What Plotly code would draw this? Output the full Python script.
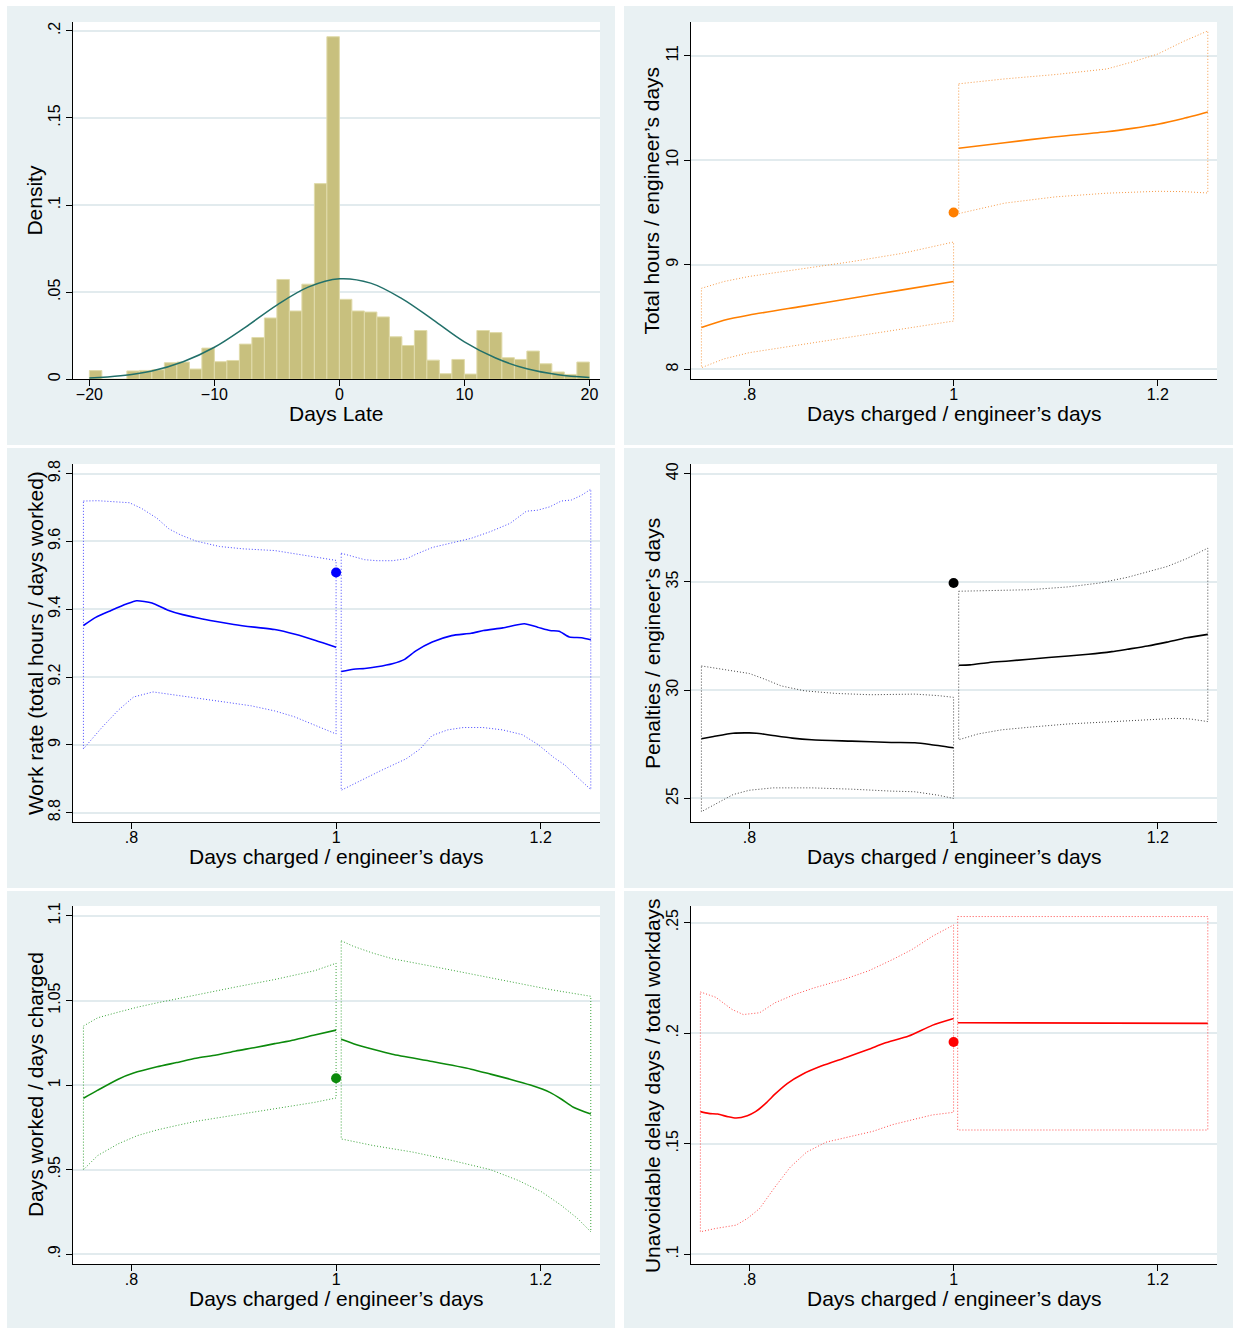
import plotly.graph_objects as go

FONT = "Liberation Sans, Arial, Helvetica, sans-serif"
W, H = 1233, 1330

# ---------------- Panel 1: histogram of days late ----------------
BIN_LEFT = list(range(-20, 20))
DENSITY = [0.0050, 0.0, 0.0, 0.0048, 0.0051, 0.0055, 0.0095, 0.0099, 0.0059, 0.0179,
           0.0101, 0.0108, 0.0202, 0.0240, 0.0352, 0.0573, 0.0392, 0.0546, 0.1123, 0.1966,
           0.0459, 0.0392, 0.0386, 0.0358, 0.0244, 0.0194, 0.0280, 0.0110, 0.0032, 0.0114,
           0.0030, 0.0280, 0.0268, 0.0124, 0.0114, 0.0162, 0.0089, 0.0042, 0.0028, 0.0099]
NORMAL_X = [-20, -17.5, -15, -12.5, -10, -7.5, -5, -2.5, 0, 2.5, 5, 7.5, 10, 12.5, 15, 17.5, 20]
NORMAL_Y = [0.0007, 0.0020, 0.0048, 0.0101, 0.0184, 0.0300, 0.0426, 0.0529, 0.0577,
            0.0552, 0.0463, 0.0341, 0.0215, 0.0122, 0.0060, 0.0026, 0.0010]
HIST_XTICKS = [-20, -10, 0, 10, 20]
HIST_XLABELS = ["\u221220", "\u221210", "0", "10", "20"]
HIST_YTICKS = [0, 0.05, 0.1, 0.15, 0.2]
HIST_YLABELS = ["0", ".05", ".1", ".15", ".2"]

# common x ticks for RD panels
RD_XTICKS = [0.8, 1.0, 1.2]
RD_XLABELS = [".8", "1", "1.2"]
DOT_X = 1.0

# ---------------- Panel 2: total hours / engineer's days ----------------
HRS_L_X = [0.753, 0.775, 0.80, 0.85, 0.90, 0.95, 1.0]
HRS_L_Y = [8.40, 8.47, 8.52, 8.60, 8.68, 8.76, 8.84]
HRS_LU = [8.775, 8.84, 8.889, 8.96, 9.03, 9.11, 9.218]
HRS_LL = [8.016, 8.10, 8.16, 8.235, 8.31, 8.385, 8.462]
HRS_R_X = [1.005, 1.05, 1.10, 1.15, 1.175, 1.20, 1.225, 1.249]
HRS_R_Y = [10.114, 10.168, 10.225, 10.272, 10.305, 10.345, 10.40, 10.462]
HRS_RU = [10.731, 10.778, 10.82, 10.873, 10.94, 11.016, 11.136, 11.237]
HRS_RL = [9.49, 9.59, 9.65, 9.685, 9.697, 9.703, 9.70, 9.687]
HRS_DOT = 9.50
HRS_YTICKS = [8, 9, 10, 11]
HRS_YLABELS = ["8", "9", "10", "11"]

# ---------------- Panel 3: work rate ----------------
WR_L_X = [0.753, 0.765, 0.78, 0.795, 0.805, 0.82, 0.835, 0.85, 0.865, 0.88, 0.90, 0.92, 0.94, 0.96, 0.98, 1.0]
WR_L_Y = [9.352, 9.376, 9.396, 9.415, 9.425, 9.418, 9.398, 9.384, 9.374, 9.365, 9.355, 9.347, 9.340, 9.326, 9.308, 9.288]
WR_LU_X = [0.753, 0.767, 0.798, 0.81, 0.825, 0.8365, 0.848, 0.863, 0.886, 0.909, 0.94, 0.963, 0.986, 1.0]
WR_LU = [9.719, 9.72, 9.714, 9.697, 9.668, 9.637, 9.619, 9.601, 9.585, 9.578, 9.573, 9.562, 9.551, 9.544]
WR_LL_X = [0.753, 0.771, 0.787, 0.802, 0.821, 0.84, 0.863, 0.894, 0.917, 0.94, 0.959, 0.9785, 1.0]
WR_LL = [8.988, 9.051, 9.102, 9.141, 9.156, 9.149, 9.138, 9.125, 9.115, 9.100, 9.083, 9.059, 9.032]
WR_R_X = [1.005, 1.017, 1.028, 1.040, 1.055, 1.067, 1.078, 1.094, 1.113, 1.132, 1.144, 1.163, 1.184, 1.197, 1.209, 1.218, 1.228, 1.240, 1.249]
WR_R_Y = [9.216, 9.223, 9.225, 9.230, 9.239, 9.252, 9.277, 9.303, 9.322, 9.329, 9.337, 9.345, 9.357, 9.347, 9.337, 9.335, 9.318, 9.316, 9.310]
WR_RU_X = [1.005, 1.017, 1.028, 1.040, 1.055, 1.069, 1.078, 1.094, 1.113, 1.132, 1.151, 1.170, 1.186, 1.197, 1.209, 1.220, 1.230, 1.240, 1.249]
WR_RU = [9.565, 9.555, 9.546, 9.543, 9.543, 9.549, 9.562, 9.582, 9.596, 9.609, 9.629, 9.653, 9.689, 9.692, 9.702, 9.719, 9.722, 9.736, 9.754]
WR_RL_X = [1.005, 1.0246, 1.0438, 1.0687, 1.0822, 1.0937, 1.109, 1.1244, 1.1436, 1.1628, 1.182, 1.1973, 1.2127, 1.2242, 1.2357, 1.249]
WR_RL = [8.866, 8.895, 8.924, 8.959, 8.988, 9.027, 9.044, 9.051, 9.051, 9.044, 9.030, 9.001, 8.963, 8.939, 8.905, 8.868]
WR_DOT = 9.508
WR_YTICKS = [8.8, 9.0, 9.2, 9.4, 9.6, 9.8]
WR_YLABELS = ["8.8", "9", "9.2", "9.4", "9.6", "9.8"]

# ---------------- Panel 4: penalties ----------------
PEN_L_X = [0.753, 0.765, 0.784, 0.80, 0.807, 0.823, 0.842, 0.861, 0.90, 0.939, 0.962, 0.977, 1.0]
PEN_L_Y = [27.755, 27.862, 28.015, 28.03, 28.015, 27.908, 27.786, 27.709, 27.648, 27.587, 27.571, 27.495, 27.342]
PEN_LU_X = [0.753, 0.784, 0.80, 0.815, 0.831, 0.854, 0.885, 0.919, 0.939, 0.962, 0.985, 1.0]
PEN_LU = [31.12, 30.89, 30.77, 30.51, 30.20, 29.97, 29.85, 29.79, 29.79, 29.82, 29.75, 29.67]
PEN_LL_X = [0.753, 0.769, 0.784, 0.80, 0.823, 0.861, 0.90, 0.939, 0.962, 0.985, 1.0]
PEN_LL = [24.39, 24.80, 25.18, 25.38, 25.49, 25.49, 25.43, 25.34, 25.31, 25.15, 25.0]
PEN_R_X = [1.005, 1.016, 1.035, 1.054, 1.093, 1.132, 1.155, 1.170, 1.190, 1.209, 1.228, 1.249]
PEN_R_Y = [31.153, 31.17, 31.28, 31.35, 31.51, 31.66, 31.78, 31.89, 32.04, 32.22, 32.42, 32.58]
PEN_RU_X = [1.005, 1.035, 1.074, 1.112, 1.143, 1.170, 1.190, 1.209, 1.228, 1.249]
PEN_RU = [34.57, 34.60, 34.64, 34.77, 34.95, 35.21, 35.45, 35.71, 36.07, 36.56]
PEN_RL_X = [1.005, 1.024, 1.047, 1.074, 1.112, 1.151, 1.190, 1.217, 1.232, 1.249]
PEN_RL = [27.71, 27.98, 28.17, 28.29, 28.44, 28.55, 28.63, 28.70, 28.67, 28.55]
PEN_DOT = 34.95
PEN_YTICKS = [25, 30, 35, 40]
PEN_YLABELS = ["25", "30", "35", "40"]

# ---------------- Panel 5: days worked / days charged ----------------
DW_L_X = [0.753, 0.767, 0.787, 0.802, 0.825, 0.844, 0.863, 0.883, 0.902, 0.921, 0.940, 0.959, 0.979, 1.0]
DW_L_Y = [0.9922, 0.997, 1.0035, 1.0071, 1.0108, 1.0133, 1.0159, 1.0178, 1.0202, 1.0222, 1.0245, 1.0267, 1.0296, 1.0325]
DW_LU_X = [0.753, 0.767, 0.787, 0.806, 0.825, 0.844, 0.863, 0.902, 0.940, 0.979, 1.0]
DW_LU = [1.0349, 1.0398, 1.0431, 1.0461, 1.0486, 1.051, 1.0535, 1.058, 1.0624, 1.0676, 1.072]
DW_LL_X = [0.753, 0.767, 0.787, 0.806, 0.825, 0.844, 0.863, 0.902, 0.940, 0.979, 1.0]
DW_LL = [0.950, 0.9584, 0.9653, 0.9702, 0.9735, 0.9761, 0.9786, 0.9825, 0.9859, 0.9898, 0.9924]
DW_R_X = [1.005, 1.017, 1.036, 1.055, 1.094, 1.132, 1.151, 1.170, 1.190, 1.209, 1.220, 1.232, 1.249]
DW_R_Y = [1.0271, 1.0245, 1.0212, 1.0182, 1.0139, 1.0094, 1.0065, 1.0035, 1.0, 0.9957, 0.9918, 0.9869, 0.9829]
DW_RU_X = [1.005, 1.017, 1.036, 1.055, 1.094, 1.132, 1.170, 1.209, 1.249]
DW_RU = [1.0853, 1.082, 1.078, 1.0747, 1.0702, 1.0657, 1.061, 1.0565, 1.0525]
DW_RL_X = [1.005, 1.036, 1.075, 1.113, 1.151, 1.178, 1.201, 1.220, 1.236, 1.249]
DW_RL = [0.9682, 0.9643, 0.9604, 0.9555, 0.950, 0.9437, 0.9369, 0.929, 0.9212, 0.9133]
DW_DOT = 1.0041
DW_YTICKS = [0.9, 0.95, 1.0, 1.05, 1.1]
DW_YLABELS = [".9", ".95", "1", "1.05", "1.1"]

# ---------------- Panel 6: unavoidable delay days ----------------
UD_L_X = [0.752, 0.760, 0.769, 0.779, 0.787, 0.798, 0.806, 0.817, 0.825, 0.837, 0.852, 0.871, 0.894, 0.917, 0.932, 0.956, 0.979, 1.0]
UD_L_Y = [0.1645, 0.1637, 0.1634, 0.1622, 0.1616, 0.1627, 0.1645, 0.1687, 0.1724, 0.1772, 0.1814, 0.1852, 0.1889, 0.1927, 0.1954, 0.1987, 0.2035, 0.2066]
UD_LU_X = [0.752, 0.767, 0.783, 0.794, 0.810, 0.825, 0.844, 0.863, 0.894, 0.917, 0.940, 0.959, 0.979, 1.0]
UD_LU = [0.2186, 0.2162, 0.2107, 0.2084, 0.2092, 0.2137, 0.2174, 0.2204, 0.2245, 0.2282, 0.2332, 0.2377, 0.2437, 0.2489]
UD_LL_X = [0.752, 0.767, 0.787, 0.798, 0.810, 0.825, 0.840, 0.856, 0.875, 0.902, 0.921, 0.940, 0.963, 0.979, 1.0]
UD_LL = [0.1102, 0.1117, 0.1132, 0.1162, 0.1207, 0.1304, 0.1394, 0.1462, 0.1507, 0.1537, 0.1556, 0.1586, 0.1612, 0.1630, 0.1642]
UD_R_X = [1.004, 1.249]
UD_R_Y = [0.2047, 0.2044]
UD_RU_X = [1.004, 1.249]
UD_RU = [0.2527, 0.2527]
UD_RL_X = [1.004, 1.249]
UD_RL = [0.1562, 0.1562]
UD_DOT = 0.196
UD_YTICKS = [0.1, 0.15, 0.2, 0.25]
UD_YLABELS = [".1", ".15", ".2", ".25"]

XTITLE = "Days charged / engineer\u2019s days"
YTITLES = ["Density", "Total hours / engineer\u2019s days",
           "Work rate (total hours / days worked)", "Penalties / engineer\u2019s days",
           "Days worked / days charged", "Unavoidable delay days / total workdays"]
XTITLES = ["Days Late", XTITLE, XTITLE, XTITLE, XTITLE, XTITLE]

# ---------------- layout geometry (pixels) ----------------
BG = "#e9f1f3"
PANEL_BOX = [(7, 2, 615, 443), (624, 2, 1233, 443),
             (7, 446, 615, 888), (624, 446, 1233, 888),
             (7, 891, 615, 1330), (624, 891, 1233, 1330)]
PLOT_BOX = [(73, 18, 600, 377), (691, 18, 1217, 377),
            (73, 462, 600, 822), (691, 462, 1217, 822),
            (73, 906, 600, 1266), (691, 906, 1217, 1266)]
XRANGES = [[-21.31, 20.85]] + [[0.7428, 1.258]] * 5
YRANGES = [[0, 0.2051], [7.905, 11.323], [8.7715, 9.8285], [23.9, 40.45],
           [0.8941, 1.1059], [0.0955, 0.2575]]


def fx(p):
    return p / W


def fy(p):
    return 1 - p / H


fig = go.Figure()

# histogram
fig.add_trace(go.Bar(x=BIN_LEFT, y=DENSITY, offset=0, width=1,
                     marker=dict(color="#c8c07e", line=dict(color="#e0dbab", width=1)),
                     xaxis="x", yaxis="y", hoverinfo="skip"))
fig.add_trace(go.Scatter(x=NORMAL_X, y=NORMAL_Y, mode="lines",
                         line=dict(color="#22706a", width=1.5, shape="spline"),
                         xaxis="x", yaxis="y", hoverinfo="skip"))


def add_rd(n, color, ci_color, lx, ly, lux, lu, llx, ll, rx, ry, rux, ru, rlx, rl, dot):
    xa = f"x{n}"
    ya = f"y{n}"
    for ux, u, lxx, l in ((lux, lu, llx, ll), (rux, ru, rlx, rl)):
        fig.add_trace(go.Scatter(
            x=list(ux) + list(lxx)[::-1] + [ux[0]],
            y=list(u) + list(l)[::-1] + [u[0]],
            mode="lines", line=dict(color=ci_color, width=1, dash="1px,2px"),
            xaxis=xa, yaxis=ya, hoverinfo="skip"))
    for x, y in ((lx, ly), (rx, ry)):
        fig.add_trace(go.Scatter(x=x, y=y, mode="lines",
                                 line=dict(color=color, width=1.6, shape="spline", smoothing=0.6),
                                 xaxis=xa, yaxis=ya, hoverinfo="skip"))
    fig.add_trace(go.Scatter(x=[DOT_X], y=[dot], mode="markers",
                             marker=dict(color=color, size=10),
                             xaxis=xa, yaxis=ya, hoverinfo="skip"))


add_rd(2, "#ff7f00", "#f59a48", HRS_L_X, HRS_L_Y, HRS_L_X, HRS_LU, HRS_L_X, HRS_LL,
       HRS_R_X, HRS_R_Y, HRS_R_X, HRS_RU, HRS_R_X, HRS_RL, HRS_DOT)
add_rd(3, "#0000ff", "#4646ff", WR_L_X, WR_L_Y, WR_LU_X, WR_LU, WR_LL_X, WR_LL,
       WR_R_X, WR_R_Y, WR_RU_X, WR_RU, WR_RL_X, WR_RL, WR_DOT)
add_rd(4, "#000000", "#444444", PEN_L_X, PEN_L_Y, PEN_LU_X, PEN_LU, PEN_LL_X, PEN_LL,
       PEN_R_X, PEN_R_Y, PEN_RU_X, PEN_RU, PEN_RL_X, PEN_RL, PEN_DOT)
add_rd(5, "#0c8a0c", "#3aa33a", DW_L_X, DW_L_Y, DW_LU_X, DW_LU, DW_LL_X, DW_LL,
       DW_R_X, DW_R_Y, DW_RU_X, DW_RU, DW_RL_X, DW_RL, DW_DOT)
add_rd(6, "#ff0000", "#ff4a4a", UD_L_X, UD_L_Y, UD_LU_X, UD_LU, UD_LL_X, UD_LL,
       UD_R_X, UD_R_Y, UD_RU_X, UD_RU, UD_RL_X, UD_RL, UD_DOT)

layout = dict(width=W, height=H, margin=dict(l=0, r=0, t=0, b=0, pad=0),
              paper_bgcolor="white", plot_bgcolor="rgba(0,0,0,0)", showlegend=False,
              font=dict(family=FONT, color="#000"))

YT = [(HIST_YTICKS, HIST_YLABELS), (HRS_YTICKS, HRS_YLABELS), (WR_YTICKS, WR_YLABELS),
      (PEN_YTICKS, PEN_YLABELS), (DW_YTICKS, DW_YLABELS), (UD_YTICKS, UD_YLABELS)]

shapes = []
annotations = []
for i in range(6):
    n = i + 1
    x0, y0, x1, y1 = PLOT_BOX[i]
    px0, py0, px1, py1 = PANEL_BOX[i]
    shapes.append(dict(type="rect", xref="paper", yref="paper", x0=fx(px0), x1=fx(px1),
                       y0=fy(py1), y1=fy(py0), fillcolor=BG, line=dict(width=0), layer="below"))
    shapes.append(dict(type="rect", xref="paper", yref="paper", x0=fx(x0), x1=fx(x1),
                       y0=fy(y1), y1=fy(y0), fillcolor="white", line=dict(width=0), layer="below"))
    xt, xl = (HIST_XTICKS, HIST_XLABELS) if i == 0 else (RD_XTICKS, RD_XLABELS)
    yt, yl = YT[i]
    key = "" if n == 1 else str(n)
    layout["xaxis" + key] = dict(domain=[fx(x0), fx(x1)], range=XRANGES[i], anchor=f"y{n}" if n > 1 else "y",
                                 tickmode="array", tickvals=xt, ticktext=xl, showgrid=False,
                                 showline=True, linecolor="#000", linewidth=1, ticks="outside",
                                 ticklen=6, tickcolor="#000", tickwidth=1, zeroline=False,
                                 ticklabelstandoff=-5,
                                 tickfont=dict(family=FONT, size=16, color="#000"), fixedrange=True)
    layout["yaxis" + key] = dict(domain=[fy(y1), fy(y0)], range=YRANGES[i], anchor=f"x{n}" if n > 1 else "x",
                                 tickmode="array", tickvals=yt, ticktext=yl, showgrid=True,
                                 gridcolor="#e2ebee", gridwidth=1.5,
                                 showline=True, linecolor="#000", linewidth=1, ticks="outside",
                                 ticklen=6, tickcolor="#000", tickwidth=1, zeroline=False,
                                 tickangle=-90,
                                 tickfont=dict(family=FONT, size=16, color="#000"), fixedrange=True)
    # axis titles
    ytx = 35 if i % 2 == 0 else 652
    annotations.append(dict(text=YTITLES[i], xref="paper", yref="paper", x=fx(ytx), y=fy((y0 + y1) / 2),
                            xanchor="center", yanchor="middle", textangle=-90, showarrow=False,
                            font=dict(family=FONT, size=21, color="#000")))
    xty = y1 + 34
    annotations.append(dict(text=XTITLES[i], xref="paper", yref="paper", x=fx((x0 + x1) / 2), y=fy(xty),
                            xanchor="center", yanchor="middle", showarrow=False,
                            font=dict(family=FONT, size=21, color="#000")))

layout["shapes"] = shapes
layout["annotations"] = annotations
fig.update_layout(**layout)
fig.write_html("out.html", config={"displayModeBar": False},
               post_script="document.body.style.margin='0';document.body.style.padding='0';")
